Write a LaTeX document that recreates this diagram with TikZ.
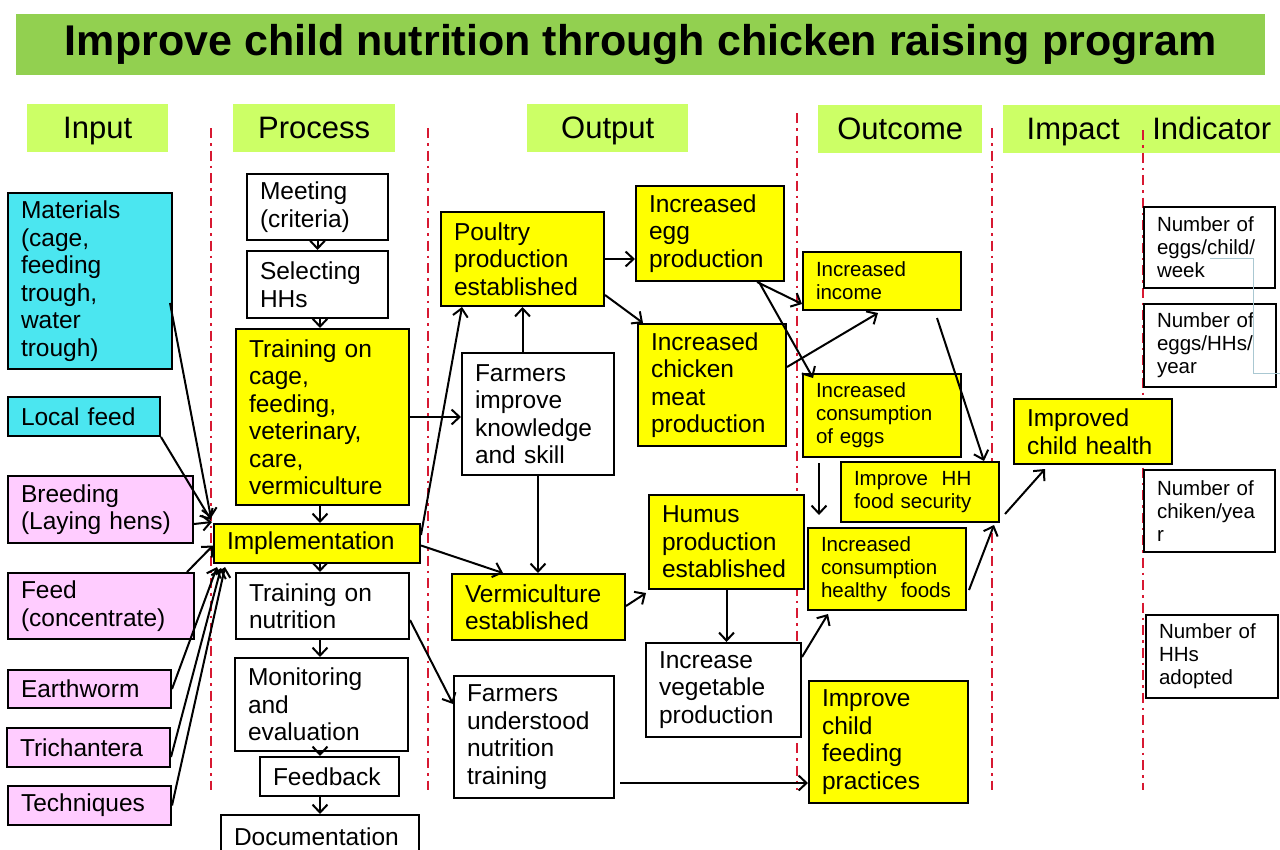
\documentclass[tikz,border=0pt]{standalone}
\usepackage{fontspec}
\setmainfont{Liberation Sans}
\usetikzlibrary{arrows.meta, calc}

\definecolor{titlegreen}{RGB}{146,208,80}
\definecolor{headgreen}{RGB}{204,255,102}
\definecolor{boxyellow}{RGB}{255,255,0}
\definecolor{boxcyan}{RGB}{75,230,240}
\definecolor{boxpink}{RGB}{255,204,255}
\definecolor{divred}{RGB}{215,25,50}
\definecolor{strayblue}{RGB}{170,200,210}

\begin{document}
\begin{tikzpicture}[x=1pt, y=-1pt]

\tikzset{box/.style = {draw, line width=2pt, anchor=north west, align=left, inner xsep=13pt, inner ysep=1pt, font=\fontsize{24.5}{27.5}\selectfont}}
\tikzset{smalltext/.style = {font=\fontsize{20.5}{23}\selectfont}}
\tikzset{head/.style = {fill=headgreen, anchor=north west, inner sep=0pt, minimum height=48pt, text height=24pt, text depth=4pt, font=\fontsize{31}{34}\selectfont}}
\tikzset{link/.style = {-{Straight Barb[length=8pt,width=15pt]}, line width=2pt}}
\tikzset{divider/.style = {divred, line width=2.6pt, dash pattern=on 10pt off 5pt on 2.5pt off 5pt}}

\path[use as bounding box, fill=white] (0,0) rectangle (1280,849);

%title and headers
\node[fill=titlegreen, anchor=north west, minimum width=1249pt, minimum height=61pt, inner sep=0pt, font=\bfseries\fontsize{43}{48}\selectfont] (title) at (16,14) {Improve child nutrition through chicken raising program};
\node[head, minimum width=141pt] (hin) at (27,104) {Input};
\node[head, minimum width=162pt] (hproc) at (233,104) {Process};
\node[head, minimum width=161pt] (hout) at (527,104) {Output};
\node[head, minimum width=164pt] (hoc) at (818,105) {Outcome};
\node[head, minimum width=140pt] (himp) at (1003,105) {Impact};
\node[head, minimum width=137pt] (hind) at (1143,105) {Indicator};

%dividers
\draw[divider] (211,128) -- (211,790);
\draw[divider] (428,128) -- (428,790);
\draw[divider] (797,113) -- (797,790);
\draw[divider] (992,128) -- (992,790);
\draw[divider] (1143,130) -- (1143,790);

%input
\node[box, fill=boxcyan, text width=138pt, minimum height=176pt] (mat) at (7,192) {Materials\\(cage,\\feeding\\trough,\\water\\trough)};
\node[box, fill=boxcyan, text width=126pt, minimum height=39pt] (lfeed) at (7,396) {Local~feed};
\node[box, fill=boxpink, text width=159pt, minimum height=67pt] (breed) at (7,475) {Breeding\\(Laying~hens)};
\node[box, fill=boxpink, text width=160pt, minimum height=66pt] (feed) at (7,572) {Feed\\(concentrate)};
\node[box, fill=boxpink, text width=137pt, minimum height=38pt] (worm) at (7,669) {Earthworm};
\node[box, fill=boxpink, text width=137pt, minimum height=39pt] (trich) at (6,727) {Trichantera};
\node[box, fill=boxpink, text width=137pt, minimum height=39pt] (tech) at (7,785) {Techniques};

%process
\node[box, fill=white, text width=115pt, minimum height=66pt] (meet) at (246,173) {Meeting\\(criteria)};
\node[box, fill=white, text width=115pt, minimum height=67pt] (sel) at (246,250) {Selecting\\HHs};
\node[box, fill=boxyellow, text width=147pt, minimum height=176pt] (trcage) at (235,328) {Training~on\\cage,\\feeding,\\veterinary,\\care,\\vermiculture};
\node[box, fill=boxyellow, text width=180pt, minimum height=39pt] (impl) at (213,523) {Implementation};
\node[box, fill=white, text width=147pt, minimum height=66pt] (trnut) at (235,572) {Training~on\\nutrition};
\node[box, fill=white, text width=147pt, minimum height=93pt] (monit) at (234,657) {Monitoring\\and\\evaluation};
\node[box, fill=white, text width=113pt, minimum height=39pt] (fback) at (259,756) {Feedback};
\node[box, fill=white, text width=172pt, minimum height=44pt] (doc) at (220,814) {Documentation};

%output
\node[box, fill=boxyellow, text width=137pt, minimum height=94pt] (poultry) at (440,211) {Poultry\\production\\established};
\node[box, fill=white, text width=126pt, minimum height=122pt] (fimp) at (461,352) {Farmers\\improve\\knowledge\\and~skill};
\node[box, fill=boxyellow, text width=122pt, minimum height=95pt] (egg) at (635,185) {Increased\\egg\\production};
\node[box, fill=boxyellow, text width=122pt, minimum height=122pt] (meat) at (637,323) {Increased\\chicken\\meat\\production};
\node[box, fill=boxyellow, text width=147pt, minimum height=66pt] (verm) at (451,573) {Vermiculture\\established};
\node[box, fill=boxyellow, text width=129pt, minimum height=94pt] (humus) at (648,494) {Humus\\production\\established};
\node[box, fill=white, text width=129pt, minimum height=94pt] (veg) at (645,642) {Increase\\vegetable\\production};
\node[box, fill=white, text width=134pt, minimum height=122pt] (fund) at (453,675) {Farmers\\understood\\nutrition\\training};

%outcome
\node[box, smalltext, fill=boxyellow, text width=132pt, minimum height=58pt] (income) at (802,251) {Increased\\income};
\node[box, smalltext, fill=boxyellow, text width=132pt, minimum height=83pt] (ceggs) at (802,373) {Increased\\consumption\\of~eggs};
\node[box, smalltext, fill=boxyellow, text width=132pt, minimum height=60pt] (hhfood) at (840,461) {Improve~~HH\\food~security};
\node[box, smalltext, fill=boxyellow, text width=132pt, minimum height=82pt] (healthy) at (807,527) {Increased\\consumption\\healthy~~foods};
\node[box, fill=boxyellow, text width=133pt, minimum height=122pt] (cfeed) at (808,680) {Improve\\child\\feeding\\practices};

%impact
\node[box, fill=boxyellow, text width=132pt, minimum height=65pt] (health) at (1013,398) {Improved\\child~health};

%indicator
\node[box, smalltext, fill=white, text width=105pt, minimum height=81pt] (ind1) at (1143,206) {Number~of\\eggs/child/\\week};
\node[box, smalltext, fill=white, text width=106pt, minimum height=83pt] (ind2) at (1143,303) {Number~of\\eggs/HHs/\\year};
\node[box, smalltext, fill=white, text width=105pt, minimum height=82pt] (ind3) at (1143,469) {Number~of\\chiken/yea\\r};
\node[box, smalltext, fill=white, text width=106pt, minimum height=83pt] (ind4) at (1145,614) {Number~of\\HHs\\adopted};
\draw[strayblue, line width=0.8pt] (1210,258) -- (1253,258) -- (1253,373) -- (1280,373);

%input arrows
\draw[link] ($(mat.north east)+(-3,111)$) -- ($(impl.north west)+(-2,-5)$);
\draw[link] (lfeed.south east) -- ($(impl.north west)+(-2,-3)$);
\draw[link] ($(breed.south east)+(0,-20)$) -- ($(impl.north west)+(-1,-1)$);
\draw[link] ($(feed.north east)+(-8,0)$) -- ($(impl.west)+(0,2)$);
\draw[link] (worm.east) -- ($(impl.south west)+(4,3)$);
\draw[link] ($(trich.south east)+(0,-11)$) -- ($(impl.south west)+(8,4)$);
\draw[link] (tech.east) -- ($(impl.south west)+(12,3)$);

%process arrows
\coordinate (col) at (320,0);
\draw[link] (meet.south) -- (meet.south |- sel.north);
\draw[link] (col |- sel.south) -- (col |- trcage.north);
\draw[link] (col |- trcage.south) -- (col |- impl.north);
\draw[link] (col |- impl.south) -- (col |- trnut.north);
\draw[link] (col |- trnut.south) -- (col |- monit.north);
\draw[link] (col |- monit.south) -- (col |- fback.north);
\draw[link] (col |- fback.south) -- (col |- doc.north);

%output arrows
\draw[link] (trcage.east) -- (trcage.east -| fimp.west);
\draw[link] ($(impl.north east)+(0,12)$) -- ($(poultry.south west)+(22,0)$);
\draw[link] ($(impl.east)+(0,2)$) -- ($(verm.north west)+(52,0)$);
\draw[link] ($(trnut.north east)+(0,48)$) -- ($(fund.west)+(0,-33)$);
\draw[link] (poultry.south |- fimp.north) -- (poultry.south);
\draw[link] (fimp.south) -- (fimp.south |- verm.north);
\draw[link] (poultry.east) -- (poultry.east -| egg.west);
\draw[link] ($(poultry.south east)+(0,-12)$) -- ($(meat.north west)+(6,0)$);
\draw[link] ($(verm.east)+(0,-1)$) -- ($(humus.south west)+(-2,3)$);
\draw[link] (humus.south) -- (humus.south |- veg.north);

%outcome arrows
\coordinate (fundout) at ($(fund.east)+(5,46)$);
\draw[link] ($(egg.south east)+(-28,0)$) -- ($(income.south west)+(0,-7)$);
\draw[link] ($(egg.south east)+(-26,0)$) -- ($(ceggs.north west)+(11,5)$);
\draw[link] ($(meat.north east)+(0,44)$) -- ($(income.south west)+(76,2)$);
\draw[link] ($(income.south east)+(-25,7)$) -- ($(hhfood.north east)+(-16,0)$);
\draw[link] ($(ceggs.south west)+(17,5)$) -- ($(healthy.north west)+(12,-12)$);
\draw[link] ($(healthy.south east)+(2,-21)$) -- ($(hhfood.south east)+(-6,2)$);
\draw[link] ($(veg.north east)+(0,15)$) -- ($(healthy.south west)+(21,3)$);
\draw[link] (fundout) -- (fundout -| cfeed.west);

%impact arrow
\draw[link] ($(hhfood.south east)+(5,-9)$) -- ($(health.south west)+(32,4)$);

\end{tikzpicture}
\end{document}
